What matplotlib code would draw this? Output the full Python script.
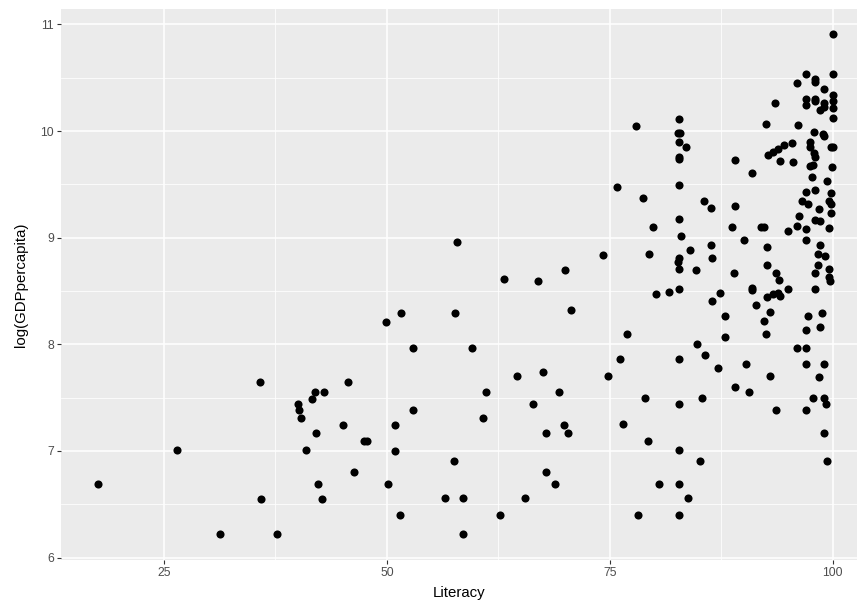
import matplotlib
matplotlib.use("Agg")
import matplotlib.pyplot as plt
import numpy as np

# Literacy (%) and log(GDP per capita)
literacy_low = [35.8, 41.9, 43.0, 41.6, 40.0, 40.1, 40.4, 42.1, 26.5, 40.9,
                17.6, 42.3, 35.9, 42.7, 31.3, 37.7]
loggdp_low = [7.65, 7.55, 7.55, 7.49, 7.44, 7.38, 7.31, 7.17, 7.01, 7.01,
              6.69, 6.69, 6.55, 6.55, 6.22, 6.22]

literacy_mid = [57.9, 74.2, 70.0, 63.1, 67.0, 70.6, 51.6, 57.6, 49.9, 52.9,
                59.5, 45.6, 64.6, 67.5, 74.8, 61.1, 69.3, 66.4, 52.9, 60.8,
                45.1, 50.9, 69.9, 67.9, 70.3, 47.4, 47.8, 50.9, 57.5, 46.3,
                67.9, 50.1, 68.9, 56.5, 58.5, 65.5, 51.5, 62.7, 58.5]
loggdp_mid = [8.96, 8.84, 8.70, 8.61, 8.59, 8.32, 8.29, 8.29, 8.21, 7.97,
              7.97, 7.65, 7.70, 7.74, 7.70, 7.55, 7.55, 7.44, 7.38, 7.31,
              7.24, 7.24, 7.24, 7.17, 7.17, 7.09, 7.09, 7.00, 6.91, 6.80,
              6.80, 6.69, 6.69, 6.56, 6.56, 6.56, 6.40, 6.40, 6.22]

literacy_upper = [82.8, 77.9, 82.6, 82.9, 82.8, 83.5, 82.8, 82.8, 75.8, 82.8,
                  78.7, 85.6, 86.4, 79.8, 82.8, 83.0, 86.4, 79.4, 84.0, 86.5,
                  82.8, 82.6, 82.8, 84.7, 80.2, 81.6, 82.8, 87.4, 86.5, 76.9,
                  84.8, 85.7, 76.2, 82.8, 87.1, 79.0, 85.3, 82.8, 76.5, 79.3,
                  82.8, 85.1, 80.5, 82.8, 83.8, 78.2, 82.8]
loggdp_upper = [10.11, 10.05, 9.98, 9.98, 9.90, 9.85, 9.76, 9.74, 9.48, 9.49,
                9.37, 9.34, 9.28, 9.10, 9.18, 9.02, 8.93, 8.85, 8.88, 8.81,
                8.81, 8.77, 8.71, 8.70, 8.47, 8.49, 8.52, 8.48, 8.41, 8.10,
                8.00, 7.90, 7.86, 7.86, 7.78, 7.50, 7.50, 7.44, 7.25, 7.09,
                7.01, 6.91, 6.69, 6.69, 6.56, 6.40, 6.40]

literacy_high = [100, 97.0, 100, 98.0, 98.0, 96.0, 99.0, 100, 97.0, 97.0,
                 98.0, 98.0, 99.0, 99.0, 100, 100, 98.6, 93.5, 100, 92.5,
                 96.1, 97.9, 98.9, 99.0, 95.4, 94.5, 97.5, 97.5, 99.8, 100,
                 93.9, 93.3, 92.7, 97.9, 98.0, 94.1, 95.6, 89.1, 97.5, 97.8,
                 99.9, 91.0, 97.7, 99.4, 98.0, 97.0, 99.8, 96.6, 97.2, 99.6,
                 99.8, 89.0, 98.5, 99.8, 96.2, 98.0, 98.6, 96.0, 97.0, 99.6,
                 95.0, 88.7, 92.0, 92.3, 90.0, 97.0, 92.6, 98.6, 98.4, 99.1,
                 92.6, 98.4, 88.9, 93.7, 98.0, 99.6, 99.6, 99.7, 94.0, 90.9,
                 90.9, 95.0, 98.0, 92.6, 93.3, 93.9, 94.1,
                 91.4, 93.0, 92.3, 87.9, 92.5, 87.9, 90.3, 93.0, 89.0, 90.6,
                 93.7, 97.2, 98.8, 97.0, 98.6, 96.0, 97.0, 97.0, 99.0, 98.5,
                 97.8, 99.0, 99.3, 97.0, 99.0, 99.4]
loggdp_high = [10.91, 10.54, 10.54, 10.49, 10.46, 10.45, 10.39, 10.34, 10.30, 10.24,
               10.30, 10.28, 10.26, 10.23, 10.28, 10.22, 10.20, 10.26, 10.12, 10.07,
               10.06, 9.99, 9.97, 9.95, 9.89, 9.87, 9.90, 9.85, 9.85, 9.85,
               9.83, 9.80, 9.78, 9.79, 9.76, 9.72, 9.71, 9.73, 9.67, 9.68,
               9.66, 9.61, 9.57, 9.53, 9.45, 9.43, 9.42, 9.34, 9.32, 9.34,
               9.32, 9.30, 9.27, 9.23, 9.20, 9.17, 9.16, 9.11, 9.08, 9.09,
               9.06, 9.10, 9.10, 9.10, 8.98, 8.98, 8.91, 8.93, 8.85, 8.83,
               8.74, 8.74, 8.67, 8.67, 8.67, 8.71, 8.63, 8.59, 8.60, 8.53,
               8.51, 8.52, 8.52, 8.44, 8.47, 8.48, 8.45,
               8.37, 8.30, 8.22, 8.27, 8.10, 8.07, 7.82, 7.70, 7.60, 7.55,
               7.38, 8.27, 8.29, 8.13, 8.16, 7.97, 7.97, 7.82, 7.82, 7.69,
               7.50, 7.50, 7.44, 7.38, 7.17, 6.91]

literacy = literacy_low + literacy_mid + literacy_upper + literacy_high
loggdp = loggdp_low + loggdp_mid + loggdp_upper + loggdp_high

plt.rcParams['font.family'] = ['Liberation Sans', 'DejaVu Sans']

W, H = 857, 604
fig = plt.figure(figsize=(W / 100, H / 100), dpi=100)
# panel runs from x=61px to past the right edge, y from 9px to 560px
ax = fig.add_axes([61 / W, (H - 560) / H, (W - 61) / W, (560 - 9) / H])
ax.set_facecolor("#EBEBEB")

ax.scatter(literacy, loggdp, s=34, color="black", linewidths=0, zorder=3)

ax.set_xlim(13.45, 102.73)
ax.set_ylim(5.977, 11.145)

ax.set_xticks([25, 50, 75, 100])
ax.set_xticks([37.5, 62.5, 87.5], minor=True)
ax.set_yticks([6, 7, 8, 9, 10, 11])
ax.set_yticks([6.5, 7.5, 8.5, 9.5, 10.5], minor=True)

ax.grid(True, which="major", color="white", linewidth=1.1, zorder=1)
ax.grid(True, which="minor", color="white", linewidth=0.55, zorder=1)
ax.set_axisbelow(True)

for s in ax.spines.values():
    s.set_visible(False)

ax.tick_params(which="major", length=2.6, width=0.8, color="#333333",
               labelcolor="#4D4D4D", labelsize=8.8, pad=2.5)
ax.tick_params(which="minor", length=0)

ax.set_xlabel("Literacy", fontsize=10.8, color="black", labelpad=5)
ax.set_ylabel("log(GDPpercapita)", fontsize=10.8, color="black", labelpad=9)

fig.savefig("out.png", dpi=100)
plt.close(fig)
